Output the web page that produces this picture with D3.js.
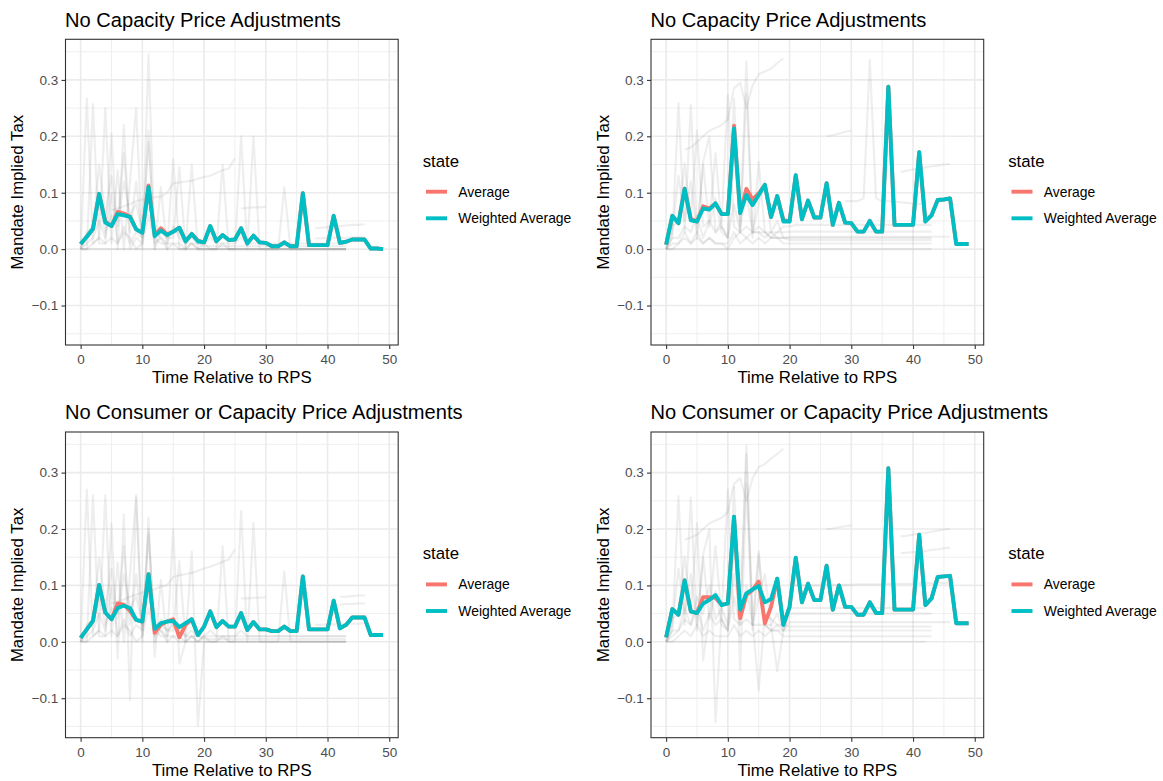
<!DOCTYPE html>
<html>
<head>
<meta charset="utf-8">
<script src="https://cdn.jsdelivr.net/npm/d3@7"></script>
<style>
  body { margin: 0; background: #fff; }
  svg { display: block; }
  text { font-family: "Liberation Sans", Arial, Helvetica, sans-serif; }
</style>
</head>
<body>
<svg id="chart" width="1163" height="781"></svg>
<script>
// ---- data ---------------------------------------------------------------
const timeSteps = d3.range(0, 50);          // time relative to RPS, 0..49
const xTicks = [0, 10, 20, 30, 40, 50];
const yTicks = [-0.1, 0, 0.1, 0.2, 0.3];
const seriesNames = ["Average", "Weighted Average"];
const panelTitles = [
  "No Capacity Price Adjustments",
  "No Capacity Price Adjustments",
  "No Consumer or Capacity Price Adjustments",
  "No Consumer or Capacity Price Adjustments"
];

// panel 1
const p1Weighted = [0.009,0.022,0.036,0.098,0.047,0.041,0.062,0.060,0.057,0.035,
  0.029,0.110,0.023,0.033,0.025,0.031,0.038,0.014,0.027,0.014,
  0.012,0.041,0.014,0.025,0.016,0.017,0.037,0.010,0.024,0.012,
  0.011,0.005,0.005,0.012,0.005,0.005,0.099,0.007,0.007,0.007,
  0.007,0.059,0.011,0.013,0.017,0.017,0.017,0.001,0.001,0.000];
const p1Average = [0.009,0.022,0.036,0.098,0.049,0.041,0.066,0.063,0.058,0.035,
  0.029,0.113,0.025,0.037,0.026,0.031,0.038,0.014,0.027,0.015,
  0.012,0.041,0.014,0.025,0.016,0.017,0.037,0.010,0.024,0.012,
  0.011,0.005,0.005,0.012,0.005,0.005,0.099,0.007,0.007,0.007,
  0.007,0.059,0.011,0.013,0.017,0.017,0.017,0.001,0.001,0.000];

// panel 2
const p2Weighted = [0.008,0.059,0.046,0.107,0.051,0.049,0.072,0.070,0.081,0.062,
  0.062,0.214,0.064,0.096,0.078,0.096,0.114,0.057,0.094,0.049,
  0.049,0.131,0.053,0.086,0.056,0.056,0.117,0.043,0.082,0.047,
  0.046,0.031,0.031,0.050,0.031,0.031,0.288,0.043,0.043,0.043,
  0.043,0.172,0.049,0.060,0.087,0.088,0.090,0.009,0.009,0.009];
const p2Average = [0.008,0.059,0.046,0.107,0.054,0.049,0.076,0.072,0.081,0.062,
  0.062,0.219,0.064,0.107,0.088,0.099,0.114,0.057,0.094,0.052,
  0.049,0.131,0.053,0.086,0.056,0.056,0.117,0.043,0.082,0.047,
  0.046,0.031,0.031,0.050,0.031,0.031,0.288,0.043,0.043,0.043,
  0.043,0.172,0.049,0.060,0.087,0.088,0.090,0.009,0.009,0.009];

// panel 3
const p3Weighted = [0.007,0.022,0.037,0.101,0.052,0.040,0.060,0.064,0.060,0.039,
  0.036,0.120,0.023,0.033,0.036,0.037,0.026,0.033,0.040,0.012,
  0.027,0.054,0.026,0.037,0.027,0.027,0.051,0.021,0.035,0.022,
  0.022,0.019,0.019,0.027,0.019,0.019,0.116,0.022,0.022,0.022,
  0.022,0.073,0.024,0.030,0.043,0.043,0.043,0.012,0.012,0.012];
const p3Average = [0.007,0.022,0.037,0.101,0.052,0.040,0.068,0.066,0.055,0.039,
  0.036,0.120,0.016,0.030,0.036,0.040,0.008,0.030,0.040,0.012,
  0.027,0.054,0.026,0.037,0.027,0.027,0.051,0.021,0.035,0.022,
  0.022,0.019,0.019,0.027,0.019,0.019,0.116,0.022,0.022,0.022,
  0.022,0.073,0.024,0.030,0.043,0.043,0.043,0.012,0.012,0.012];

// panel 4
const p4Weighted = [0.008,0.058,0.048,0.109,0.054,0.051,0.068,0.074,0.083,0.065,
  0.068,0.222,0.057,0.086,0.093,0.099,0.070,0.076,0.112,0.030,
  0.062,0.149,0.070,0.103,0.074,0.074,0.135,0.057,0.100,0.062,
  0.062,0.048,0.048,0.070,0.051,0.051,0.308,0.057,0.057,0.057,
  0.057,0.190,0.065,0.077,0.115,0.116,0.117,0.033,0.033,0.033];
const p4Average = [0.008,0.058,0.048,0.109,0.054,0.051,0.079,0.079,0.078,0.066,
  0.068,0.222,0.042,0.083,0.092,0.107,0.033,0.062,0.112,0.030,
  0.062,0.149,0.070,0.103,0.074,0.074,0.135,0.057,0.100,0.062,
  0.062,0.048,0.048,0.070,0.051,0.051,0.308,0.057,0.057,0.057,
  0.057,0.190,0.065,0.077,0.115,0.116,0.117,0.033,0.033,0.033];

// individual state paths (start = first time step of the path)
const p1States = [
  {start: 0, values: [0,0.267,0.01,0.02,0.25,0.01,0.14,0,0.12,0.25,0,0.345,0,0.11,0,0.16,0,0,0.15,0,0,0,0,0.15,0,0,0.2,0,0.2,0,0,0,0,0.11,0,0,0,0,0,0,0,0,0,0]},
  {start: 0, values: [0,0,0.257,0.01,0.01,0.205,0,0.22,0,0.02,0.01,0.21,0,0.03,0.02,0.02,0.145,0,0.01,0,0.01,0,0,0.01,0,0,0,0,0,0,0,0,0,0,0,0,0,0,0,0,0,0,0,0]},
  {start: 0, values: [0,0.03,0.04,0.15,0.06,0.13,0.04,0.12,0.06,0.08,0.03,0.19,0.02,0.04,0.02,0.03,0.03,0.01,0.02,0.01,0.01,0.02,0.01,0.01,0.01,0.01,0.02,0.01,0.01,0.01,0.01,0.01,0.01,0.01,0.01,0.01,0.01,0.01,0.01,0.01,0.01,0.01,0.01,0.01]},
  {start: 5, values: [0.069,0.072,0.076,0.08,0.085,0.088,0.09,0.092,0.093,0.1,0.117,0.118,0.12,0.121,0.125,0.128,0.13,0.135,0.14,0.143,0.161]},
  {start: 26, values: [0.072,0.073,0.074,0.074,0.075]},
  {start: 38, values: [0.037,0.038,0.039,0.04,0.041,0.042,0.043,0.043,0.044]},
  {start: 38, values: [0.019,0.019,0.02,0.02,0.02,0.02,0.021,0.021,0.021]},
  {start: 0, values: [0,0.01,0.02,0.05,0.02,0.1,0.01,0.03,0.02,0,0.01,0.06,0.01,0.02,0,0.01,0,0,0.01,0,0,0,0,0,0,0,0,0,0,0,0,0,0,0,0,0,0,0,0,0,0,0,0,0]},
  {start: 0, values: [0,0,0.01,0.02,0.01,0.02,0.01,0.04,0.01,0.03,0.02,0.11,0.02,0.01,0.01,0.01,0.01,0,0,0,0,0,0,0,0,0,0,0,0,0,0,0,0,0,0,0,0,0,0,0,0,0,0,0]},
  {start: 0, values: [0,0.02,0.03,0.08,0.03,0.06,0.05,0.17,0.03,0.12,0.02,0.09,0.03,0.02,0.01,0.04,0.02,0.01,0.01,0.01,0.005,0.005,0.005,0.005,0.005,0.005,0.005,0.005,0.005,0.005,0.005,0.005,0.005,0.005,0.005,0.005,0.005,0.005,0.005,0.005,0.005,0.005,0.005,0.005]},
  {start: 0, values: [0,0,0,0,0,0,0,0,0,0,0,0,0,0,0,0,0,0,0,0,0,0,0,0,0,0,0,0,0,0,0,0,0,0,0,0,0,0,0,0,0,0,0,0]}
];
const p2States = [
  {start: 0, values: [0,0.02,0.259,0.03,0.256,0.02,0.155,0.2,0.03,0.05,0.273,0.04,0.03,0.333,0.02,0.155,0.03,0.02,0.02,0.01,0.01,0.01,0.01,0.01,0.01,0.01,0.01,0.01,0.01,0.01,0.01,0.01,0.01,0.01,0.01,0.01,0.01,0.01,0.01,0.01,0.01,0.01,0.01,0.01]},
  {start: 0, values: [0,0.04,0.05,0.152,0.05,0.21,0.04,0.05,0.17,0.04,0.02,0.267,0.03,0.276,0.03,0.04,0.03,0.03,0.02,0.02,0.02,0.02,0.02,0.02,0.02,0.02,0.02,0.02,0.02,0.02,0.02,0.02,0.02,0.02,0.02,0.02,0.02,0.02,0.02,0.02,0.02,0.02,0.02,0.02]},
  {start: 29, values: [0.085,0.085,0.085,0.09,0.335,0.09,0.085,0.085,0.084,0.083,0.082,0.081,0.08,0.08]},
  {start: 3, values: [0.176,0.18,0.19,0.2,0.21,0.215,0.22,0.23,0.285,0.295,0.25,0.29,0.31,0.315,0.32,0.33,0.338]},
  {start: 26, values: [0.2,0.202,0.205,0.208,0.21]},
  {start: 38, values: [0.137,0.139,0.141,0.143,0.145,0.147,0.148,0.15,0.151]},
  {start: 0, values: [0,0.01,0.01,0.03,0.01,0.02,0.01,0.02,0.01,0.01,0,0.02,0.03,0.02,0.03,0.03,0.02,0.03,0.03,0.04,0.04,0.043,0.043,0.043,0.043,0.043,0.043,0.043,0.043,0.043,0.043,0.043,0.043,0.043,0.043,0.043,0.043,0.043,0.043,0.043,0.043,0.043,0.043,0.043]},
  {start: 0, values: [0,0.02,0.02,0.04,0.03,0.06,0.02,0.05,0.03,0.04,0.02,0.08,0.03,0.04,0.03,0.03,0.03,0.02,0.03,0.03,0.031,0.031,0.031,0.031,0.031,0.031,0.031,0.031,0.031,0.031,0.031,0.031,0.031,0.031,0.031,0.031,0.031,0.031,0.031,0.031,0.031,0.031,0.031,0.031]},
  {start: 0, values: [0,0,0.01,0.02,0.01,0.03,0.01,0.02,0.01,0.01,0.01,0.03,0.01,0.02,0.01,0.02,0.01,0.02,0.02,0.02,0.022,0.022,0.022,0.022,0.022,0.022,0.022,0.022,0.022,0.022,0.022,0.022,0.022,0.022,0.022,0.022,0.022,0.022,0.022,0.022,0.022,0.022,0.022,0.022,0.022,0.022,0.022]},
  {start: 0, values: [0,0.03,0.13,0.05,0.12,0.03,0.15,0.04,0.09,0.03,0.02,0.17,0.04,0.1,0.03,0.08,0.12,0.03,0.05,0.02,0.016,0.016,0.016,0.016,0.016,0.016,0.016,0.016,0.016,0.016,0.016,0.016,0.016,0.016,0.016,0.016,0.016,0.016,0.016,0.016,0.016,0.016,0.016,0.016]},
  {start: 0, values: [0,0,0,0,0,0,0,0,0,0,0,0,0,0,0,0,0,0,0,0,0,0,0,0,0,0,0,0,0,0,0,0,0,0,0,0,0,0,0,0,0,0,0,0]}
];
const p3States = [
  {start: 0, values: [0,0.27,0.01,0.02,0.26,0.01,0.14,0,0.12,0.26,0,0.22,-0.027,0.11,0,0.2,-0.039,0,0.16,-0.149,0,0,0,0.17,0,0,0.232,0,0.211,0,0,0,0,0.125,0,0,0,0,0,0,0,0,0,0]},
  {start: 0, values: [0,0,0.26,0.01,0.01,0.21,-0.03,0.226,-0.103,0.256,0.01,0.2,0,0.03,0.02,0.02,0.143,0,0.01,0,0.01,0,0,0.01,0,0,0,0,0,0,0,0,0,0,0,0,0,0,0,0,0,0,0,0]},
  {start: 0, values: [0,0.03,0.04,0.15,0.06,0.13,0.04,0.12,0.06,0.08,0.03,0.19,0.02,0.04,0.02,0.03,0.03,0.01,0.02,0.01,0.01,0.02,0.01,0.01,0.01,0.01,0.02,0.01,0.01,0.01,0.01,0.01,0.01,0.01,0.01,0.01,0.01,0.01,0.01,0.01,0.01,0.01,0.01,0.01]},
  {start: 5, values: [0.068,0.071,0.075,0.08,0.084,0.087,0.09,0.093,0.098,0.1,0.115,0.118,0.12,0.122,0.126,0.13,0.133,0.137,0.142,0.146,0.164]},
  {start: 26, values: [0.077,0.077,0.078,0.078,0.079]},
  {start: 42, values: [0.08,0.08,0.081,0.082,0.082]},
  {start: 42, values: [0.066,0.067,0.067,0.068,0.068]},
  {start: 38, values: [0.03,0.03,0.031,0.031,0.031,0.032,0.032,0.032,0.033]},
  {start: 0, values: [0,0.01,0.02,0.05,0.02,0.1,0.01,0.03,0.02,0,0.01,0.06,0.01,0.02,0,0.01,0,0,0.01,0,0.01,0.01,0.01,0.01,0.01,0.01,0.01,0.01,0.01,0.01,0.01,0.01,0.01,0.01,0.01,0.01,0.01,0.01,0.01,0.01,0.01,0.01,0.01,0.01]},
  {start: 0, values: [0,0,0.01,0.02,0.01,0.02,0.01,0.04,0.01,0.03,0.02,0.11,0.02,0.01,0.01,0.01,0.01,0,0,0,0,0,0,0,0,0,0,0,0,0,0,0,0,0,0,0,0,0,0,0,0,0,0,0]},
  {start: 0, values: [0,0.02,0.03,0.08,0.03,0.06,0.05,0.17,0.03,0.12,0.02,0.09,0.03,0.02,0.01,0.04,0.02,0.01,0.01,0.01,0.005,0.005,0.005,0.005,0.005,0.005,0.005,0.005,0.005,0.005,0.005,0.005,0.005,0.005,0.005,0.005,0.005,0.005,0.005,0.005,0.005,0.005,0.005,0.005]},
  {start: 0, values: [0,0,0,0,0,0,0,0,0,0,0,0,0,0,0,0,0,0,0,0,0,0,0,0,0,0,0,0,0,0,0,0,0,0,0,0,0,0,0,0,0,0,0,0]}
];
const p4States = [
  {start: 0, values: [0,0.02,0.259,0.03,0.256,0.02,0.155,0.2,-0.143,0.05,0.27,0.04,0.03,0.333,0.02,0.155,0.03,0.02,0.02,0.01,0.01,0.01,0.01,0.01,0.01,0.01,0.01,0.01,0.01,0.01,0.01,0.01,0.01,0.01,0.01,0.01,0.01,0.01,0.01,0.01,0.01,0.01,0.01,0.01]},
  {start: 0, values: [0,0.04,0.05,0.152,0.05,0.21,-0.033,0.05,0.17,0.04,0.02,0.275,-0.05,0.28,0.03,0.16,0.03,0.03,-0.052,0.02,0.02,0.02,0.02,0.02,0.02,0.02,0.02,0.02,0.02,0.02,0.02,0.02,0.02,0.02,0.02,0.02,0.02,0.02,0.02,0.02,0.02,0.02,0.02,0.02]},
  {start: 0, values: [0,0.01,0.02,0.06,0.03,0.08,0.05,0.1,0.04,0.06,0.03,0.12,0.05,0.348,0.04,-0.086,0.05,0.04,0.03,0.02,0.05,0.05,0.05,0.05,0.05,0.05,0.05,0.05,0.05,0.05,0.05,0.05,0.05,0.05,0.05,0.05,0.05,0.05,0.05,0.05,0.05,0.05,0.05,0.05]},
  {start: 3, values: [0.181,0.185,0.19,0.2,0.21,0.215,0.22,0.23,0.28,0.29,0.25,0.29,0.31,0.315,0.325,0.333,0.342]},
  {start: 26, values: [0.2,0.201,0.203,0.205,0.206]},
  {start: 38, values: [0.187,0.188,0.19,0.192,0.193,0.195,0.197,0.199,0.2]},
  {start: 38, values: [0.157,0.158,0.159,0.16,0.161,0.163,0.164,0.166,0.167]},
  {start: 20, values: [0.1,0.1,0.1,0.1,0.1,0.1,0.101,0.101,0.101,0.101,0.101,0.102,0.102,0.102,0.102,0.102,0.103,0.103,0.103,0.103,0.103,0.104,0.104,0.104,0.104,0.104,0.104]},
  {start: 0, values: [0,0.02,0.02,0.04,0.03,0.06,0.02,0.05,0.03,0.04,0.02,0.08,0.03,0.04,0.03,0.03,0.03,0.02,0.03,0.03,0.027,0.027,0.027,0.027,0.027,0.027,0.027,0.027,0.027,0.027,0.027,0.027,0.027,0.027,0.027,0.027,0.027,0.027,0.027,0.027,0.027,0.027,0.027,0.027]},
  {start: 0, values: [0,0,0.01,0.02,0.01,0.03,0.01,0.02,0.01,0.01,0.01,0.03,0.01,0.02,0.01,0.02,0.01,0.02,0.02,0.02,0.035,0.035,0.035,0.035,0.035,0.035,0.035,0.035,0.035,0.035,0.035,0.035,0.035,0.035,0.035,0.035,0.035,0.035,0.035,0.035,0.035,0.035,0.035,0.035,0.035,0.035,0.035]},
  {start: 0, values: [0,0.03,0.13,0.05,0.12,0.03,0.15,0.04,0.09,0.03,0.02,0.17,0.04,0.1,0.03,0.08,0.12,0.03,0.05,0.02,0.06,0.06,0.06,0.06,0.06,0.06,0.06,0.06,0.06,0.06,0.06,0.06,0.06,0.06,0.06,0.06,0.06,0.06,0.06,0.06,0.06,0.06,0.06]},
  {start: 0, values: [0,0,0,0,0,0,0,0,0,0,0,0,0,0,0,0,0,0,0,0,0,0,0,0,0,0,0,0,0,0,0,0,0,0,0,0,0,0,0,0,0,0,0]}
];

const panels = [
  {title: panelTitles[0], average: p1Average, weighted: p1Weighted, states: p1States},
  {title: panelTitles[1], average: p2Average, weighted: p2Weighted, states: p2States},
  {title: panelTitles[2], average: p3Average, weighted: p3Weighted, states: p3States},
  {title: panelTitles[3], average: p4Average, weighted: p4Weighted, states: p4States}
];

// ---- layout -------------------------------------------------------------
const cellW = 585.5, cellH = 392.7;
const plot = {left: 65.5, right: 398.2, top: 39.3, bottom: 345};
const colors = {"Average": "#F8766D", "Weighted Average": "#00BFC4"};

const svg = d3.select("#chart");

const x = d3.scaleLinear().domain([-2.45, 51.45]).range([plot.left, plot.right]);
const y = d3.scaleLinear().domain([-0.170, 0.372]).range([plot.bottom, plot.top]);

const xMinor = [5, 15, 25, 35, 45];
const yMinor = [-0.15, -0.05, 0.05, 0.15, 0.25, 0.35];

const line = d3.line()
  .defined(d => d[1] != null)
  .x(d => x(d[0]))
  .y(d => y(d[1]))
  .curve(d3.curveLinear);

panels.forEach((p, i) => {
  const g = svg.append("g")
    .attr("transform", `translate(${(i % 2) * cellW},${Math.floor(i / 2) * cellH})`);

  // grid
  const grid = g.append("g");
  grid.selectAll(".xminor").data(xMinor).join("line")
    .attr("x1", d => x(d)).attr("x2", d => x(d))
    .attr("y1", plot.top).attr("y2", plot.bottom)
    .attr("stroke", "#EBEBEB").attr("stroke-width", 0.8);
  grid.selectAll(".yminor").data(yMinor).join("line")
    .attr("y1", d => y(d)).attr("y2", d => y(d))
    .attr("x1", plot.left).attr("x2", plot.right)
    .attr("stroke", "#EBEBEB").attr("stroke-width", 0.8);
  grid.selectAll(".xmajor").data(xTicks).join("line")
    .attr("x1", d => x(d)).attr("x2", d => x(d))
    .attr("y1", plot.top).attr("y2", plot.bottom)
    .attr("stroke", "#EBEBEB").attr("stroke-width", 1.6);
  grid.selectAll(".ymajor").data(yTicks).join("line")
    .attr("y1", d => y(d)).attr("y2", d => y(d))
    .attr("x1", plot.left).attr("x2", plot.right)
    .attr("stroke", "#EBEBEB").attr("stroke-width", 1.6);

  // individual states
  g.append("g").selectAll("path").data(p.states).join("path")
    .attr("d", s => line(s.values.map((v, k) => [s.start + k, v])))
    .attr("fill", "none")
    .attr("stroke", "#7a7a7a")
    .attr("stroke-opacity", 0.13)
    .attr("stroke-width", 2.1)
    .attr("stroke-linejoin", "round");

  // average lines
  const summary = [
    {name: "Average", values: p.average},
    {name: "Weighted Average", values: p.weighted}
  ];
  g.append("g").selectAll("path").data(summary).join("path")
    .attr("d", s => line(timeSteps.map(t => [t, s.values[t]])))
    .attr("fill", "none")
    .attr("stroke", s => colors[s.name])
    .attr("stroke-width", 3.9)
    .attr("stroke-linejoin", "round");

  // panel border
  g.append("rect")
    .attr("x", plot.left).attr("y", plot.top)
    .attr("width", plot.right - plot.left).attr("height", plot.bottom - plot.top)
    .attr("fill", "none").attr("stroke", "#333333").attr("stroke-width", 1.1);

  // axes
  const xAxis = g.append("g")
    .attr("transform", `translate(0,${plot.bottom})`)
    .call(d3.axisBottom(x).tickValues(xTicks).tickSize(4).tickPadding(5.6));
  const yAxis = g.append("g")
    .attr("transform", `translate(${plot.left},0)`)
    .call(d3.axisLeft(y).tickValues(yTicks).tickSize(4).tickPadding(3.2).tickFormat(d3.format(".1f")));
  [xAxis, yAxis].forEach(a => {
    a.select(".domain").remove();
    a.selectAll(".tick line").attr("stroke", "#333333").attr("stroke-width", 1.1);
    a.selectAll(".tick text")
      .attr("fill", "#4D4D4D")
      .style("font-size", "13.5px")
      .style("font-family", '"Liberation Sans", Arial, Helvetica, sans-serif');
  });

  // axis titles
  g.append("text")
    .attr("x", (plot.left + plot.right) / 2).attr("y", 383.3)
    .attr("text-anchor", "middle")
    .style("font-size", "16.8px").attr("fill", "#000")
    .text("Time Relative to RPS");
  g.append("text")
    .attr("transform", `translate(23.3,${(plot.top + plot.bottom) / 2}) rotate(-90)`)
    .attr("text-anchor", "middle")
    .style("font-size", "16.8px").attr("fill", "#000")
    .text("Mandate Implied Tax");

  // panel title
  g.append("text")
    .attr("x", 65).attr("y", 26.5)
    .style("font-size", "20.1px").attr("fill", "#000")
    .text(p.title);

  // legend
  const lg = g.append("g");
  lg.append("text").attr("x", 422.7).attr("y", 166.7)
    .style("font-size", "16.8px").attr("fill", "#000").text("state");
  seriesNames.forEach((name, k) => {
    const ky = 191.7 + k * 26.6;
    lg.append("line")
      .attr("x1", 426).attr("x2", 447).attr("y1", ky).attr("y2", ky)
      .attr("stroke", colors[name]).attr("stroke-width", 3.9);
    lg.append("text").attr("x", 458.3).attr("y", ky + 4.8)
      .style("font-size", "13.9px").attr("fill", "#000").text(name);
  });
});
</script>
</body>
</html>
